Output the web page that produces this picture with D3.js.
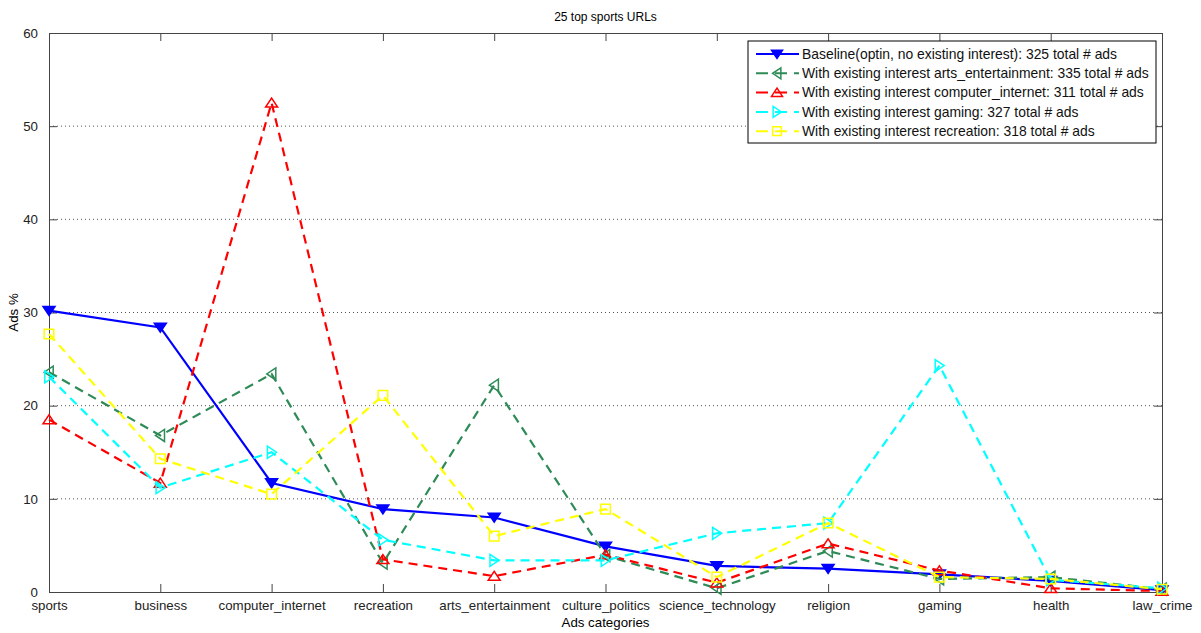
<!DOCTYPE html>
<html>
<head>
<meta charset="utf-8">
<style>
    body { margin: 0; background: #fff; }
    svg { font-family: 'Liberation Sans', Arial, sans-serif; }
</style>
</head>
<body>
<svg width="1201" height="633"></svg>
<script src="https://d3js.org/d3.v7.min.js"></script>
<script>
    let categories = ["sports", "business", "computer_internet", "recreation", "arts_entertainment",
        "culture_politics", "science_technology", "religion", "gaming", "health", "law_crime"]

    let baseline = [30.2, 28.4, 11.7, 8.9, 8.0, 4.9, 2.8, 2.5, 1.9, 1.2, 0.2]
    let artsEnt = [23.6, 16.8, 23.4, 3.1, 22.2, 3.9, 0.4, 4.4, 1.4, 1.6, 0.3]
    let compInt = [18.5, 11.7, 52.5, 3.5, 1.7, 4.0, 1.0, 5.2, 2.3, 0.4, 0.1]
    let gaming = [23.1, 11.2, 15.0, 5.6, 3.4, 3.4, 6.3, 7.4, 24.3, 1.3, 0.4]
    let recreation = [27.7, 14.3, 10.5, 21.1, 6.0, 8.9, 1.6, 7.4, 1.6, 1.4, 0.3]

    let yTicks = [0, 10, 20, 30, 40, 50, 60]

    let series = [
        { name: "Baseline(optin, no existing interest): 325 total # ads", values: baseline, color: "#0000ff", dash: null, marker: "down", fill: true },
        { name: "With existing interest arts_entertainment: 335 total # ads", values: artsEnt, color: "#2e8b57", dash: "9,6", marker: "left", fill: false },
        { name: "With existing interest computer_internet: 311 total # ads", values: compInt, color: "#ff0000", dash: "9,6", marker: "up", fill: false },
        { name: "With existing interest gaming: 327 total # ads", values: gaming, color: "#00ffff", dash: "9,6", marker: "right", fill: false },
        { name: "With existing interest recreation: 318 total # ads", values: recreation, color: "#ffff00", dash: "9,6", marker: "square", fill: false }
    ]

    let margin = { left: 49, right: 39, top: 33, bottom: 41 }
    let width = 1201, height = 633
    let svg = d3.select("svg")

    let x = d3.scalePoint()
        .domain(categories)
        .range([margin.left, width - margin.right])
    let y = d3.scaleLinear()
        .domain([0, 60])
        .range([height - margin.bottom, margin.top])

    let x0 = margin.left, x1 = width - margin.right
    let y0 = height - margin.bottom, y1 = margin.top

    // dotted grid
    svg.append("g")
        .selectAll("line")
        .data(yTicks.filter(d => d > 0 && d < 60))
        .join("line")
        .attr("x1", x0).attr("x2", x1)
        .attr("y1", d => y(d)).attr("y2", d => y(d))
        .style("stroke", "#555")
        .style("stroke-width", 1)
        .style("stroke-dasharray", "1,3")

    // axes (inward ticks, mirrored)
    let tickLen = 8
    svg.append("g").attr("transform", `translate(0,${y0})`)
        .call(d3.axisBottom(x).tickSizeInner(-tickLen).tickSizeOuter(0).tickPadding(tickLen + 1))
    svg.append("g").attr("transform", `translate(0,${y1})`)
        .call(d3.axisTop(x).tickSizeInner(-tickLen).tickSizeOuter(0).tickFormat(""))
    svg.append("g").attr("transform", `translate(${x0},0)`)
        .call(d3.axisLeft(y).tickValues(yTicks).tickSizeInner(-tickLen).tickSizeOuter(0).tickPadding(tickLen + 3))
    svg.append("g").attr("transform", `translate(${x1},0)`)
        .call(d3.axisRight(y).tickValues(yTicks).tickSizeInner(-tickLen).tickSizeOuter(0).tickFormat(""))

    svg.selectAll(".domain").style("stroke", "#444")
    svg.selectAll(".tick line").style("stroke", "#444")
    svg.selectAll(".tick text").style("font-size", "13.3px").style("fill", "#222")
        .style("font-family", "'Liberation Sans', Arial, sans-serif")

    // lines
    let line = d3.line()
        .x((d, i) => x(categories[i]))
        .y(d => y(d))

    function markerPath(type, s) {
        if (type === "down") return `M${-s},${-s * 0.7}L${s},${-s * 0.7}L0,${s * 0.8}Z`
        if (type === "up") return `M${-s},${s * 0.7}L${s},${s * 0.7}L0,${-s * 0.8}Z`
        if (type === "left") return `M${s * 0.7},${-s}L${s * 0.7},${s}L${-s * 0.8},0Z`
        if (type === "right") return `M${-s * 0.7},${-s}L${-s * 0.7},${s}L${s * 0.8},0Z`
        return `M${-s * 0.8},${-s * 0.8}H${s * 0.8}V${s * 0.8}H${-s * 0.8}Z`
    }

    series.forEach(s => {
        svg.append("path")
            .datum(s.values)
            .attr("d", line)
            .style("fill", "none")
            .style("stroke", s.color)
            .style("stroke-width", 2.2)
            .style("stroke-dasharray", s.dash)

        svg.append("g")
            .selectAll("path")
            .data(s.values)
            .join("path")
            .attr("transform", (d, i) => `translate(${x(categories[i])},${y(d)})`)
            .attr("d", markerPath(s.marker, 6))
            .style("fill", s.fill ? s.color : "none")
            .style("stroke", s.color)
            .style("stroke-width", 1.5)
    })

    // title and labels
    svg.append("text")
        .attr("x", (x0 + x1) / 2).attr("y", 21)
        .attr("text-anchor", "middle")
        .style("font-size", "12px")
        .text("25 top sports URLs")

    svg.append("text")
        .attr("x", (x0 + x1) / 2).attr("y", 627)
        .attr("text-anchor", "middle")
        .style("font-size", "13.3px")
        .text("Ads categories")

    svg.append("text")
        .attr("transform", `translate(18,${(y0 + y1) / 2}) rotate(-90)`)
        .attr("text-anchor", "middle")
        .style("font-size", "13.3px")
        .text("Ads %")

    // legend
    let lg = svg.append("g").attr("transform", "translate(748,41)")
    lg.append("rect")
        .attr("width", 408).attr("height", 102)
        .style("fill", "#fff")
        .style("stroke", "#000")
        .style("stroke-width", 1)

    let rows = lg.selectAll(".row")
        .data(series)
        .join("g")
        .attr("transform", (d, i) => `translate(0,${13 + i * 19.3})`)

    rows.append("line")
        .attr("x1", 8).attr("x2", 51)
        .style("stroke", d => d.color)
        .style("stroke-width", 2)
        .style("stroke-dasharray", d => d.dash ? "12,7" : null)
    rows.append("path")
        .attr("transform", "translate(29,0)")
        .attr("d", d => markerPath(d.marker, 5.5))
        .style("fill", d => d.fill ? d.color : "none")
        .style("stroke", d => d.color)
        .style("stroke-width", 1.5)
    rows.append("text")
        .attr("x", 54).attr("dy", "0.35em")
        .style("font-size", "13.9px")
        .style("fill", "#111")
        .text(d => d.name)
</script>
</body>
</html>
